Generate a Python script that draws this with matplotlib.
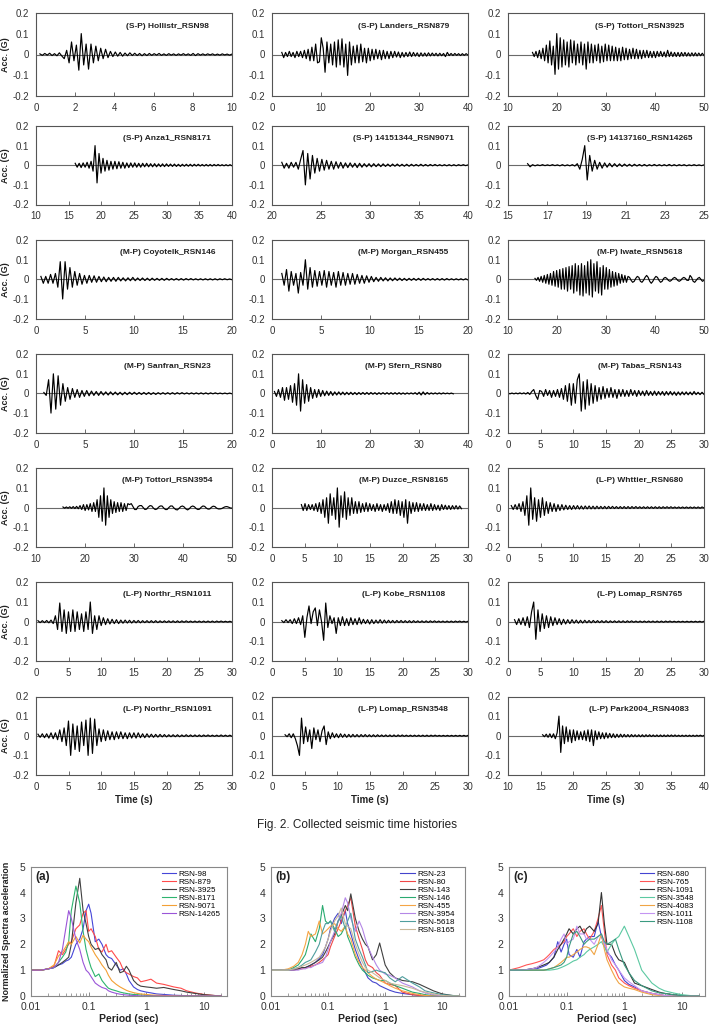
import numpy as np
import matplotlib.pyplot as plt
from matplotlib import font_manager

# ---------------- time history records (acceleration in 0.01 g, evenly spaced from start to end time)
hollistr_98 = [0.3,-0.4,0.5,-0.3,0.6,-0.5,0.4,-0.6,0.8,-0.7,
               -2,2,-4,6,-3,4.5,-7.5,10,-5,5,
               -7,5,-4,4,-3,3,-2,2.5,-1.5,1.5,
               -1,1.2,-0.8,1,-0.8,0.7,-0.6,0.8,-0.5,0.6,
               -0.5,0.5,-0.6,0.4,-0.5,0.5,-0.4,0.4,-0.3,0.5,
               -0.4,0.3,-0.4,0.4,-0.3,0.3,-0.4,0.3,-0.3,0.4,
               -0.3,0.3,-0.4,0.5,-0.5,0.4,-0.3,0.3,-0.3,0.3,
               -0.2,0.3,-0.3,0.2,-0.3,0.3,-0.2,0.2,-0.3,0.2]
landers_879 = [1,-1.5,1,-1,1.5,-1,1,-1.5,1.5,-1,
               1.5,-1.5,2,-2,2.5,-3,3.5,-3,5,-4,
               -3.5,8,3,-8.5,6,-4,5,-5,6,-6,
               7,-5,7.5,-6,5,-10,6,-5,4,-4,
               4.5,-4,5,-3.5,3,-4,3,-3,2.5,-2.5,
               2.5,-2,2,-2.5,2,-2,1.5,-2,1.5,-1.5,
               1.5,-1.2,1.2,-1.5,1,-1.2,1,-1,1.2,-1,
               1,-0.8,0.8,-1,0.8,-0.8,0.7,-0.8,0.8,-0.7,
               0.7,-0.6,0.6,-0.7,0.6,-0.6,0.5,-1,1,-0.5,
               0.5,-0.5,0.5,-0.4,0.4,-0.5,0.4,-0.4,0.4,-0.3]
tottori_3925 = [1,-1,1.5,-1.5,2,-2,3,-3,4.5,-4,
                6.5,-5,4,-9.5,10,-7,8,-6,7,-5,
                6,-6,7,-4,6.5,-5,5,-4,6,-5,
                5,-7,6,-4,5,-4,4.5,-3,5,-4,
                4,-3.5,5,-3,4.5,-3,4,-3,3.5,-3,
                3,-3,3.5,-2.5,3,-2.5,2.5,-2,3,-2,
                2.5,-2,2,-2,2,-1.5,2,-1.5,1.5,-1.5,
                1.5,-1.5,1.5,-1,1.5,-1,1.2,-1.2,2,-1,
                1.2,-1,1,-1,1,-1,1,-0.8,1,-0.8,
                0.8,-0.8,0.8,-0.7,0.8,-0.7,0.7,-0.6,0.6,-0.5]
anza1_8171 = [1,-1,1,-1.2,1.2,-1,1.5,-1.5,2,-3,
              10,-9,6,-4,3.5,-3,2.5,-2.5,2,-2,
              2,-1.8,1.8,-1.5,1.5,-1.5,1.2,-1.2,1.2,-1,
              1.2,-1,1,-1,1,-0.8,1,-0.8,0.8,-0.8,
              0.8,-0.8,0.7,-0.7,0.7,-0.7,0.7,-0.6,0.6,-0.6,
              0.6,-0.6,0.5,-0.6,0.5,-0.5,0.5,-0.5,0.5,-0.5,
              0.5,-0.4,0.5,-0.4,0.4,-0.4,0.4,-0.4,0.4,-0.4,
              0.4,-0.3,0.4,-0.3,0.3,-0.3,0.3,-0.3,0.3,-0.3]
eq14151344_9071 = [1.5,-1.5,1,-1.5,1.5,-1,1.5,-2,3,7.5,
                   -10,6,-7,5,-4,3.5,-3,3,-2.5,2.5,
                   -2,2,-2,1.8,-1.5,1.5,-1.5,1.2,-1.2,1.2,
                   -1,1,-1.2,1,-1,0.8,-0.8,0.8,-0.8,0.8,
                   -0.7,0.7,-0.7,0.7,-0.6,0.6,-0.6,0.6,-0.5,0.6,
                   -0.5,0.5,-0.5,0.5,-0.5,0.5,-0.4,0.4,-0.4,0.5,
                   -0.4,0.4,-0.4,0.4,-0.3,0.4,-0.3,0.3,-0.3,0.3,
                   -0.3,0.3,-0.3,0.3,-0.3,0.3,-0.2,0.3,-0.2,0.2]
eq14137160_14265 = [0.8,-0.8,0.3,-0.3,0.2,-0.2,0.3,-0.2,0.2,-0.2,
                    0.3,-0.2,0.2,-0.3,0.3,-0.3,0.2,-0.3,0.3,-0.4,
                    0.8,-2,3,10,-7.5,5,-3,2.5,-2,1.5,
                    -1.5,1.2,-1,1,-0.8,0.8,-0.7,0.7,-0.6,0.6,
                    -0.5,0.5,-0.5,0.5,-0.4,0.4,-0.4,0.4,-0.4,0.3,
                    -0.3,0.4,-0.3,0.3,-0.3,0.3,-0.3,0.4,-0.3,0.3,
                    -0.3,0.3,-0.2,0.3,-0.3,0.2,-0.2,0.3,-0.2,0.2,-0.2,0.2]
coyotelk_146 = [1.5,-2,1.5,-2,2.5,-2,3,-4,9,-10,
                9,-5,6,-4,4,-3,3,-2.5,2,-2,
                2,-1.5,1.8,-1.5,1.5,-1.2,1.2,-1.2,1,-1,
                1,-1,1,-0.8,0.8,-0.8,0.8,-0.7,1,-0.7,
                0.7,-0.6,0.7,-0.6,0.6,-0.6,0.6,-0.5,0.5,-0.5,
                0.5,-0.5,0.5,-0.4,0.4,-0.4,0.4,-0.4,0.4,-0.4,
                0.4,-0.3,0.4,-0.3,0.3,-0.3,0.3,-0.3,0.3,-0.3,
                0.3,-0.3,0.3,-0.3,0.3,-0.2,0.3,-0.2,0.2,-0.2]
morgan_455 = [3,-3,5,-6,4,-3,3,-7,3.5,-3,
              10,-5,6,-4,4.5,-3.5,4,-3,4.5,-4,
              4,-3,3.5,-4,4,-3,3.5,-3,3,-2.5,
              3,-2.5,2.5,-2,2,-2,1.8,-1.5,1.5,-1.2,
              1,-1,1,-0.8,0.8,-0.8,0.7,-0.7,0.7,-0.6,
              0.6,-0.6,0.5,-0.6,0.5,-0.5,0.5,-0.5,0.5,-0.5,
              0.5,-0.4,0.4,-0.4,0.4,-0.4,0.4,-0.4,0.4,-0.4,
              0.4,-0.3,0.3,-0.3,0.3,-0.3,0.3,-0.3,0.3,-0.3]
iwate_5618 = [0.5,-0.5,1,-1,1.5,-1.5,2,-2,2.5,-2.5,
              3,-3,4,-3.5,4.5,-4,5,-5,5.5,-5,
              6,-6,6.5,-5,7,-7,8,-6,7,-8,
              8,-8.5,7,-7,9,-8,10,-9,8,-6,
              9,-7,6,-8,7,-5,6,-5,5,-4,
              4,-3.5,3.5,-3,3,-2,2.5,-1.5,2,-1.5,
              1.5,1,-0.5,-1.5,-1,0.5,1.5,1,-1,-1.5,
              -0.5,1,2,1,-1,-2,-1,0.5,1.5,1,
              -0.5,-1.5,-1,0.5,1,0.5,-0.5,-1,-0.5,0.5,
              1,0.5,-0.5,-1,-0.5,0.5,1,0.5,-0.5,-0.5,
              2,1,-1,-1.5,-0.5,0.5,1,0,-1,-0.5]
sanfran_23 = [0.5,-1,7,-10,10,-8,9,-6,5,-4,
              3,-3,2.5,-2,2,-2,1.5,-1.5,1.5,-1.2,
              1.2,-1,1,-1,1,-0.8,0.8,-0.8,0.8,-0.7,
              0.7,-0.7,0.6,-0.7,0.6,-0.6,0.6,-0.5,0.6,-0.5,
              0.5,-0.5,0.5,-0.5,0.5,-0.5,0.4,-0.5,0.4,-0.4,
              0.4,-0.4,0.4,-0.4,0.4,-0.4,0.4,-0.3,0.4,-0.3,
              0.3,-0.3,0.3,-0.3,0.3,-0.3,0.3,-0.3,0.3,-0.3,
              0.3,-0.2,0.3,-0.2,0.2,-0.2,0.2,-0.2,0.2,-0.2]
sfern_80 = [1,-1.5,2,-2,3,-3.5,3,-3,4,-4.5,
            5,-6,10,-9,7,-5,4.5,-4,3,-2.5,
            2,-2,2,-1.5,1.5,-1.2,1.2,-1,1,-1,
            0.8,-0.8,0.8,-0.7,0.7,-0.7,0.6,-0.6,0.6,-0.6,
            0.5,-0.6,0.5,-0.5,0.5,-0.5,0.5,-0.5,0.5,-0.4,
            0.4,-0.5,0.4,-0.4,0.4,-0.4,0.4,-0.4,0.4,-0.4,
            0.4,-0.4,0.4,-0.4,0.3,-0.4,0.3,-0.3,0.3,-0.3,
            0.4,-0.5,0.6,-0.8,0.8,-0.6,0.5,-0.4,0.3,-0.3,
            0.3,-0.3,0.3,-0.3,0.3,-0.2,0.2,-0.2,0.2,-0.2]
tabas_143 = [0.2,-0.2,0.2,-0.2,0.2,-0.2,0.3,-0.2,0.3,-0.3,
             0.5,-0.5,1,2,-1,-3,1.5,1,-1.5,2,
             -1,1.5,-2,1.5,-1.5,2,-2,2.5,-3,4,
             -4,5,-6,5,-5,7,10,-9,6,-8,
             7,-6,5,-5,4,-4,3,-3,3.5,-2.5,
             2.5,-2,3,-2,2,-2.5,2,-1.5,2,-1.5,
             1.5,-1.5,2,-1,1.5,-1.5,1.5,-1,1.2,-1.2,
             1.5,-1,1,-1,1.2,-1,1,-0.8,1,-1,
             1,-0.8,1,-0.8,0.8,-1,0.8,-0.8,0.8,-0.7,
             0.8,-0.7,0.7,-0.7,1,-0.6,0.6,-0.6,0.6,-0.5]
tottori_3954 = [0.3,-0.3,0.3,-0.3,0.4,-0.4,0.5,-0.5,0.6,-0.6,
                1,-1,1.5,-1.5,1.5,-1.2,2,-2,2.5,-2,
                4,-5,6,-7,10,-9,6,-5,4,-3,
                3,-2.5,2.5,-2,2.5,-2,2,-1.5,2,1.5,
                2,0.5,-1,-1,0.5,1,1,0,-1,-0.8,
                0.3,1,0.8,-0.3,-1,-0.8,0.2,0.8,0.8,-0.2,
                -1,-1,0,0.8,0.8,-0.2,-1,-1.2,-0.4,0.5,
                0.8,0.3,-0.7,-1.2,-0.6,0.4,0.8,0.4,-0.5,-1,
                -0.8,0.2,0.8,0.6,-0.3,-0.8,-0.7,0.2,0.7,0.5,
                -0.3,-0.7,-0.7,-0.5,0,0.4,0.5,0.2,-0.2,-0.3]
duzce_8165 = [1.5,-1.5,2,-1.5,1.5,-1,1.5,-1.5,2,-2,
              2.5,-3,4,-5,5,-8,7,-4,5,-6,
              10,-10,6,-5,8,-6,5,-4,5,-3,
              3,-3,3,-2.5,2,-2,2.5,-2,2,-1.5,
              1.5,-2,2,-1.5,1.5,-2,1.5,-1.5,2,-2.5,
              3,-3,4,-3,3.5,-4,3,-5,4,-8,
              3,-3,2.5,-2,2.5,-2,2,-1.5,2,-1.5,
              1.5,-1.5,2,-1.5,1.5,-1.2,1.2,-1.5,1.5,-1,
              1.2,-1,1,-1,1,-0.8,1,-0.8,0.8,-0.6]
whittier_680 = [1,-1,1.5,-1,2,-2,3,-4,6,-9,
                10,-6,5,-7,4,-5,5,-4,3,-3,
                2.5,-2,2,-2,1.5,-1.5,1.5,-1.2,1.2,-1,
                1,-1,1,-0.8,1,-0.8,0.8,-0.8,0.8,-0.7,
                0.8,-0.7,0.7,-0.7,0.7,-0.6,0.6,-0.6,0.6,-0.6,
                0.6,-0.5,0.6,-0.5,0.5,-0.5,0.5,-0.5,0.5,-0.5,
                0.5,-0.5,0.5,-0.4,0.5,-0.4,0.4,-0.4,0.4,-0.4,
                0.4,-0.4,0.4,-0.4,0.4,-0.4,0.4,-0.4,0.4,-0.3,
                0.4,-0.3,0.4,-0.3,0.3,-0.3,0.3,-0.3,0.3,-0.3,
                0.3,-0.3,0.3,-0.3,0.3,-0.3,0.3,-0.3,0.3,-0.2]
northr_1011 = [0.5,-0.5,0.5,-0.5,0.6,-0.6,0.8,-1,3,-4,
               9.5,-5,6,-6,5,-5,6,-5,5,-4,
               4,-5,5,-4,10,-6,3,-4,3,-2,
               2,-1.5,1.5,-1.2,1.2,-1,1,-1,0.8,-0.8,
               0.8,-0.7,0.7,-0.7,0.6,-0.6,0.6,-0.6,0.5,-0.5,
               0.5,-0.5,0.5,-0.5,0.5,-0.5,0.4,-0.4,0.4,-0.4,
               0.4,-0.4,0.4,-0.4,0.4,-0.4,0.4,-0.3,0.4,-0.3,
               0.3,-0.3,0.3,-0.3,0.3,-0.3,0.3,-0.3,0.3,-0.3,
               0.3,-0.3,0.3,-0.2,0.3,-0.2,0.2,-0.2,0.2,-0.2]
kobe_1108 = [0.5,-0.5,1,-0.5,1,-1,1.5,-1,2,-1.5,
             3,-8,2,8,-1,5,7,-2,6,0,
             -9.5,9.5,-3,3,-1,2,-6,2,-2,2.5,
             -2,1.5,-2,2,-1.5,1.5,-1.5,2,-1.2,1.2,
             -1,1,-1.2,1,-1,0.8,-0.8,1,-0.8,0.8,
             -0.7,0.7,-0.6,0.6,-0.6,0.6,-0.5,0.6,-0.5,0.5,
             -0.5,0.5,-0.5,0.5,-0.4,0.4,-0.4,0.4,-0.4,0.4,
             -0.4,0.4,-0.3,0.4,-0.3,0.3,-0.3,0.3,-0.3,0.3,
             -0.3,0.3,-0.3,0.3,-0.2,0.3,-0.2,0.2,-0.2,0.2]
lomap_765 = [1,-1.5,1.5,-1.5,2,-2,2.5,-3,5,10,
             -9,6,-5,4,-3.5,3,-3,2.5,-2,2,
             -1.5,1.5,-1.5,1.2,-1.2,1,-1,1,-0.8,0.8,
             -0.8,0.7,-0.7,0.7,-0.6,0.6,-0.6,0.6,-0.5,0.5,
             -0.5,0.5,-0.5,0.5,-0.5,0.4,-0.4,0.4,-0.4,0.4,
             -0.4,0.4,-0.4,0.4,-0.3,0.4,-0.3,0.3,-0.3,0.3,
             -0.3,0.3,-0.3,0.3,-0.3,0.3,-0.3,0.3,-0.3,0.3,
             -0.3,0.3,-0.2,0.3,-0.2,0.2,-0.2,0.2,-0.2,0.2,
             -0.2,0.2,-0.2,0.2,-0.2,0.2,-0.2,0.2,-0.2,0.2]
northr_1091 = [0.8,-0.8,1,-1,1,-1.2,1.5,-1.5,1.5,-2,
               3,-3,4,-5,7.5,-10,6,-7,5,-8,
               7,-5,8,-10,9,-9,8.5,-5,3.5,-3,
               3,-2.5,2.5,-2,2,-2,2,-1.5,2,-1.5,
               1.5,-1.5,1.5,-1.2,1.5,-1.2,1.5,-1,1,-1,
               1,-0.8,0.8,-0.8,0.7,-0.7,0.7,-0.6,0.6,-0.6,
               0.5,-0.5,0.5,-0.5,0.5,-0.5,0.4,-0.4,0.5,-0.4,
               0.4,-0.4,0.4,-0.4,0.4,-0.4,0.4,-0.3,0.4,-0.3,
               0.3,-0.3,0.3,-0.3,0.4,-0.3,0.3,-0.3,0.3,-0.3]
lomap_3548 = [0.5,-0.5,1,-1,1,-1.5,-5,-10,9,-4,
              4.5,-3,3,-6.5,4,-2,3,-3,2.5,5,
              -4.5,2,-1.5,1.5,-1,1,-1,1,-0.8,0.8,
              -0.8,0.7,-0.7,0.7,-0.6,0.6,-0.6,0.6,-0.5,0.6,
              -0.5,0.5,-0.5,0.5,-0.5,0.5,-0.4,0.4,-0.4,0.4,
              -0.4,0.4,-0.4,0.4,-0.4,0.4,-0.3,0.4,-0.3,0.3,
              -0.3,0.3,-0.3,0.3,-0.3,0.3,-0.3,0.3,-0.3,0.3,
              -0.3,0.3,-0.2,0.3,-0.2,0.2,-0.2,0.2,-0.2,0.2,
              -0.2,0.2,-0.2,0.2,-0.2,0.2,-0.2,0.2,-0.2,0.2]
park2004_4083 = [0.5,-0.5,0.8,-0.8,1,-1,1,-1.5,1.5,10,
                 -8.5,5,-4,4.5,-3,3,-3.5,3,-2.5,2.5,
                 -2,2,-2,2.5,-2.5,3,-3,3,-5,2.5,
                 -2,2,-1.5,1.5,-1.5,1.5,-1.2,1.2,-1,1,
                 -1,0.8,-0.8,0.8,-0.7,0.7,-0.6,0.6,-0.6,0.6,
                 -0.5,0.5,-0.5,0.5,-0.5,0.5,-0.5,0.5,-0.4,0.5,
                 -0.4,0.4,-0.4,0.4,-0.4,0.4,-0.4,0.4,-0.4,0.4,
                 -0.3,0.4,-0.3,0.4,-0.3,0.3,-0.3,0.3,-0.3,0.3,
                 -0.3,0.3,-0.3,0.3,-0.3,0.3,-0.2,0.3,-0.2,0.2]

# title, record, start time, end time, x min, x max, x tick step
panels = [
    ('(S-P) Hollistr_RSN98', hollistr_98, 0.2, 10, 0, 10, 2),
    ('(S-P) Landers_RSN879', landers_879, 2, 40, 0, 40, 10),
    ('(S-P) Tottori_RSN3925', tottori_3925, 15, 50, 10, 50, 10),
    ('(S-P) Anza1_RSN8171', anza1_8171, 16, 40, 10, 40, 5),
    ('(S-P) 14151344_RSN9071', eq14151344_9071, 21, 40, 20, 40, 5),
    ('(S-P) 14137160_RSN14265', eq14137160_14265, 16, 25, 15, 25, 2),
    ('(M-P) Coyotelk_RSN146', coyotelk_146, 0.5, 20, 0, 20, 5),
    ('(M-P) Morgan_RSN455', morgan_455, 1, 20, 0, 20, 5),
    ('(M-P) Iwate_RSN5618', iwate_5618, 15.5, 50, 10, 50, 10),
    ('(M-P) Sanfran_RSN23', sanfran_23, 0.8, 20, 0, 20, 5),
    ('(M-P) Sfern_RSN80', sfern_80, 0.5, 37, 0, 40, 10),
    ('(M-P) Tabas_RSN143', tabas_143, 0, 30, 0, 30, 5),
    ('(M-P) Tottori_RSN3954', tottori_3954, 15.5, 50, 10, 50, 10),
    ('(M-P) Duzce_RSN8165', duzce_8165, 4.5, 29, 0, 30, 5),
    ('(L-P) Whttier_RSN680', whittier_680, 0.5, 30, 0, 30, 5),
    ('(L-P) Northr_RSN1011', northr_1011, 0.3, 30, 0, 30, 5),
    ('(L-P) Kobe_RSN1108', kobe_1108, 1.5, 30, 0, 30, 5),
    ('(L-P) Lomap_RSN765', lomap_765, 1, 30, 0, 30, 5),
    ('(L-P) Northr_RSN1091', northr_1091, 0.3, 30, 0, 30, 5),
    ('(L-P) Lomap_RSN3548', lomap_3548, 2, 30, 0, 30, 5),
    ('(L-P) Park2004_RSN4083', park2004_4083, 15.3, 40, 10, 40, 5),
]
acc_ticks = [-0.2, -0.1, 0, 0.1, 0.2]
acc_labels = ['-0.2', '-0.1', '0', '0.1', '0.2']

# ---------------- normalized response spectra
periods = [0.01, 0.015, 0.02, 0.025, 0.03, 0.035, 0.04, 0.045, 0.05, 0.06,
           0.07, 0.08, 0.09, 0.1, 0.11, 0.13, 0.15, 0.17, 0.2, 0.22,
           0.25, 0.3, 0.35, 0.4, 0.45, 0.5, 0.6, 0.7, 0.8, 1.0,
           1.2, 1.5, 2, 3, 4, 5, 7, 10, 15, 20]

sa_a_labels = ['RSN-98', 'RSN-879', 'RSN-3925', 'RSN-8171', 'RSN-9071', 'RSN-14265']
sa_a = [
    [1.0,1.0,1.05,1.1,1.2,1.25,1.35,1.4,1.5,2.0, 2.2,2.6,3.3,3.55,3.2,2.1,2.2,2.0,1.6,1.5,
     1.45,1.2,1.0,1.05,0.85,0.6,0.35,0.25,0.2,0.15, 0.12,0.08,0.06,0.03,0.02,0.01,0,0,0,0],
    [1.0,1.0,1.05,1.15,1.75,1.6,1.8,2.0,2.1,2.6, 2.75,3.2,3.3,2.5,2.6,2.3,1.8,1.7,2.0,1.7,
     1.75,1.5,1.3,1.0,0.9,0.85,0.75,0.7,0.55,0.6, 0.65,0.5,0.45,0.35,0.3,0.2,0.12,0.06,0.02,0.0],
    [1.0,1.0,1.05,1.1,1.2,1.3,1.4,1.5,2.0,3.6, 4.55,3.3,2.8,2.3,2.0,1.8,1.85,1.6,1.4,1.1,
     1.0,1.3,0.9,0.95,1.15,1.0,0.6,0.45,0.38,0.35, 0.33,0.3,0.33,0.25,0.2,0.15,0.1,0.05,0.02,0.0],
    [1.0,1.0,1.05,1.1,1.3,1.5,1.7,2.1,3.3,4.25, 3.6,2.5,1.8,1.4,1.1,0.75,0.85,0.6,0.4,0.3,
     0.25,0.2,0.15,0.12,0.1,0.08,0.06,0.05,0.04,0.03, 0.02,0.01,0,0,0,0,0,0,0,0],
    [1.0,1.0,1.05,1.2,1.55,1.7,1.9,2.1,2.0,2.3, 2.05,2.35,2.2,2.1,1.9,1.6,1.4,1.2,1.0,0.8,
     0.6,0.45,0.35,0.28,0.22,0.18,0.13,0.1,0.08,0.06, 0.04,0.03,0.02,0.01,0,0,0,0,0,0],
    [1.0,1.0,1.05,1.1,1.3,1.8,2.6,3.3,3.0,2.2, 1.8,1.3,1.0,0.9,0.75,0.5,0.4,0.33,0.28,0.2,
     0.15,0.1,0.07,0.05,0.04,0.03,0.02,0.01,0,0, 0,0,0,0,0,0,0,0,0,0],
]
sa_b_labels = ['RSN-23', 'RSN-80', 'RSN-143', 'RSN-146', 'RSN-455', 'RSN-3954', 'RSN-5618', 'RSN-8165']
sa_b = [
    [1.0,1.0,1.0,1.05,1.05,1.1,1.1,1.15,1.2,1.3, 1.45,1.6,1.9,2.2,2.6,3.0,3.2,2.8,3.3,2.8,
     2.4,1.8,1.4,1.1,0.9,0.7,0.55,0.5,0.4,0.3, 0.22,0.15,0.1,0.05,0.02,0.01,0,0,0,0],
    [1.0,1.0,1.0,1.0,1.05,1.05,1.1,1.1,1.15,1.2, 1.3,1.4,1.5,1.6,1.9,2.3,2.6,2.9,3.3,3.5,
     3.8,2.7,2.2,1.8,1.4,1.2,1.1,0.9,0.8,0.5, 0.45,0.4,0.15,0.05,0.02,0.01,0,0,0,0],
    [1.0,1.0,1.0,1.0,1.05,1.1,1.1,1.15,1.2,1.3, 1.4,1.5,1.7,1.9,2.1,2.4,2.9,3.1,3.5,3.3,
     3.95,3.0,2.5,2.2,2.0,1.9,1.4,1.6,2.05,1.2, 0.9,0.7,0.6,0.55,0.45,0.35,0.2,0.08,0.02,0.0],
    [1.0,1.0,1.0,1.1,1.2,1.4,1.6,2.0,2.4,2.1, 2.6,3.5,2.9,2.8,2.9,2.6,2.3,2.4,2.7,2.3,
     2.0,1.5,1.2,1.0,0.9,0.8,0.7,0.65,0.6,0.6, 0.5,0.4,0.3,0.15,0.1,0.05,0.02,0,0,0],
    [1.0,1.0,1.05,1.15,1.3,1.6,2.0,2.5,2.3,2.4, 2.9,2.4,2.5,2.6,2.7,2.8,2.6,2.5,2.7,2.4,
     2.2,1.6,1.3,1.1,1.0,0.9,0.75,0.65,0.6,0.5, 0.4,0.3,0.2,0.1,0.05,0.02,0,0,0,0],
    [1.0,1.0,1.0,1.0,1.0,1.05,1.05,1.1,1.1,1.2, 1.25,1.3,1.5,1.8,2.1,2.5,2.9,3.2,3.8,3.6,
     3.0,2.5,2.9,2.6,2.2,1.9,1.5,1.2,1.0,0.85, 0.8,0.7,0.5,0.35,0.2,0.12,0.05,0.01,0,0],
    [1.0,1.0,1.0,1.05,1.1,1.2,1.3,1.35,1.4,1.7, 2.0,2.5,2.8,2.8,2.9,2.5,2.9,3.1,2.6,2.9,
     3.2,2.2,1.8,1.5,1.2,0.9,0.95,1.0,0.95,0.9, 0.7,0.55,0.75,0.5,0.35,0.2,0.12,0.05,0.02,0],
    [1.0,1.0,1.0,1.05,1.1,1.15,1.2,1.25,1.3,1.4, 1.5,1.7,1.9,2.2,2.5,2.9,3.1,3.4,2.8,2.7,
     2.6,2.0,1.6,1.3,1.1,1.0,0.9,0.8,0.7,0.6, 0.5,0.45,0.4,0.3,0.2,0.15,0.08,0.02,0,0],
]
sa_c_labels = ['RSN-680', 'RSN-765', 'RSN-1091', 'RSN-3548', 'RSN-4083', 'RSN-1011', 'RSN-1108']
sa_c = [
    [1.0,1.0,1.02,1.05,1.05,1.1,1.15,1.2,1.3,1.5, 2.1,1.7,2.0,2.2,1.6,1.5,1.8,1.5,2.1,2.2,
     2.3,2.3,2.9,2.3,2.0,1.7,1.5,1.2,1.0,0.6, 0.45,0.35,0.2,0.1,0.05,0.02,0,0,0,0],
    [1.0,1.1,1.2,1.25,1.3,1.35,1.4,1.5,1.6,1.8, 1.9,2.0,2.1,2.3,2.4,2.6,2.3,2.5,2.6,2.4,
     2.2,2.5,3.0,3.5,2.5,1.6,1.2,1.0,0.7,0.5, 0.4,0.3,0.2,0.1,0.05,0.02,0,0,0,0],
    [1.0,1.0,1.02,1.05,1.1,1.15,1.2,1.25,1.3,1.5, 1.8,2.0,2.2,2.4,2.6,2.4,2.6,2.7,2.4,2.6,
     2.7,2.5,2.8,4.0,2.8,2.0,2.0,1.6,1.4,1.3, 0.9,0.5,0.4,0.25,0.15,0.1,0.05,0.02,0,0],
    [1.0,1.0,1.0,1.0,1.0,1.0,1.0,1.0,1.0,1.02, 1.05,1.1,1.15,1.2,1.25,1.35,1.4,1.5,1.6,1.7,
     1.8,1.9,2.0,2.1,1.9,1.7,2.0,2.2,2.3,2.7, 2.3,1.8,1.0,0.5,0.3,0.2,0.12,0.05,0.01,0],
    [1.0,1.0,1.0,1.0,1.0,1.0,1.0,1.02,1.05,1.1, 1.2,1.3,1.4,1.5,1.5,1.6,1.7,1.8,1.9,1.9,
     1.85,1.6,2.0,2.4,1.8,1.4,1.0,0.7,0.5,0.35, 0.3,0.25,0.15,0.05,0.02,0,0,0,0,0],
    [1.0,1.0,1.02,1.05,1.1,1.2,1.3,1.4,1.5,1.7, 1.9,2.2,2.4,2.0,2.1,2.2,2.7,2.4,2.4,2.2,
     2.2,2.0,2.3,2.4,2.0,1.8,1.4,1.2,1.0,0.7, 0.55,0.4,0.2,0.1,0.05,0.02,0,0,0,0],
    [1.0,1.0,1.0,1.0,1.0,1.0,1.0,1.02,1.05,1.1, 1.15,1.2,1.3,1.5,1.9,2.4,2.5,2.3,2.0,2.1,
     2.2,2.2,2.3,2.4,2.1,2.0,2.1,2.2,1.8,1.2, 0.9,0.6,0.4,0.2,0.12,0.1,0.05,0.01,0,0],
]
colors_a = ['#4646d8', '#ff4a4a', '#404040', '#2db46e', '#f3a035', '#9a55d8']
colors_b = ['#4444cc', '#f04848', '#404040', '#2aaa70', '#f5a545', '#b487e6', '#4f9e9e', '#c9b89a']
colors_c = ['#4444d2', '#ff5555', '#333333', '#5cc9a2', '#f0a545', '#c495f2', '#3a9a80']

# ---------------- fonts
names = {f.name for f in font_manager.fontManager.ttflist}
narrow = 'Liberation Sans Narrow' if 'Liberation Sans Narrow' in names else 'Liberation Sans'
plt.rcParams['font.family'] = [narrow, 'DejaVu Sans']
title_size = 7 if narrow == 'Liberation Sans Narrow' else 6

W, H = 714, 1028
fig = plt.figure(figsize=(W / 100, H / 100), dpi=100)
col_x = [36, 272, 508]


def row_box(r):
    if r == 0:
        return 12.7, 83.6
    return 126 + 114.1 * (r - 1), 78.5


for k, (title, rec, t0, t1, xlo, xhi, xstep) in enumerate(panels):
    r, c = divmod(k, 3)
    top, h = row_box(r)
    ax = fig.add_axes([col_x[c] / W, 1 - (top + h) / H, 196 / W, h / H])
    acc = np.array(rec) / 100.0
    t = np.linspace(t0, t1, len(acc))
    ax.axhline(0, color='#6a6a6a', lw=0.8, zorder=1)
    ax.plot(t, acc, color='black', lw=0.85, zorder=2)
    ax.set_xlim(xlo, xhi)
    ax.set_ylim(-0.2, 0.2)
    ax.set_xticks(np.arange(xlo, xhi + 0.01, xstep))
    ax.set_yticks(acc_ticks)
    ax.set_yticklabels(acc_labels)
    ax.tick_params(axis='x', direction='in', length=3, width=0.6, color='#555555',
                   labelsize=7, pad=5, labelcolor='#333333')
    ax.tick_params(axis='y', length=0, labelsize=7, pad=5, labelcolor='#333333')
    for s in ax.spines.values():
        s.set_color('#555555')
        s.set_linewidth(0.8)
    ax.text(0.67, 0.84, title, transform=ax.transAxes, ha='center', va='center',
            fontsize=title_size, fontweight='bold', color='#222222')
    if c == 0:
        fig.text(6 / W, 1 - (top + h / 2) / H, 'Acc. (G)', rotation=90, ha='center',
                 va='center', fontsize=6.5, fontweight='bold', color='#222222')
    if r == 6:
        fig.text((col_x[c] + 98) / W, 1 - 800 / H, 'Time (s)', ha='center', va='center',
                 fontsize=7, fontweight='bold', color='#222222')

fig.text(357 / W, 1 - 825 / H, 'Fig. 2. Collected seismic time histories', ha='center',
         va='center', fontsize=8.5, family='Liberation Sans', color='#222222')

# ---------------- spectra panels
spec = [('(a)', sa_a, sa_a_labels, colors_a, 31, 196),
        ('(b)', sa_b, sa_b_labels, colors_b, 271, 194),
        ('(c)', sa_c, sa_c_labels, colors_c, 509, 196)]
for j, (tag, curves, labels, cols, left, wd) in enumerate(spec):
    ax = fig.add_axes([left / W, 1 - 996 / H, wd / W, 129.3 / H])
    for vals, lab, col in zip(curves, labels, cols):
        ax.plot(periods, vals, color=col, lw=0.8, label=lab)
    ax.set_xscale('log')
    ax.set_xlim(0.01, 25)
    ax.set_ylim(0, 5)
    ax.set_xticks([0.01, 0.1, 1, 10])
    ax.set_xticklabels(['0.01', '0.1', '1', '10'])
    ax.set_yticks([0, 1, 2, 3, 4, 5])
    ax.tick_params(axis='x', which='major', direction='in', length=3, width=0.6,
                   color='#777777', labelsize=7.5, pad=4, labelcolor='#333333')
    ax.tick_params(axis='x', which='minor', direction='in', length=2.5, width=0.5,
                   color='#777777')
    ax.tick_params(axis='y', length=0, labelsize=7.5, pad=4, labelcolor='#333333')
    for lab in ax.get_xticklabels() + ax.get_yticklabels():
        lab.set_family('Liberation Sans')
    for s in ax.spines.values():
        s.set_color('#888888')
        s.set_linewidth(0.8)
    ax.text(0.06, 0.92, tag, transform=ax.transAxes, ha='center', va='center',
            fontsize=8.5, fontweight='bold', family='Liberation Sans', color='#222222')
    ax.legend(loc='upper left', bbox_to_anchor=(0.65, 1.0), frameon=False,
              prop={'family': 'Liberation Sans', 'size': 5.8}, labelspacing=0.05,
              handlelength=1.8, handletextpad=0.3, borderpad=0.4, borderaxespad=0)
    ax.set_xlabel('Period (sec)', fontsize=7.5, fontweight='bold', family='Liberation Sans',
                  color='#222222', labelpad=2)
    if j == 0:
        ax.set_ylabel('Normalized Spectra acceleration', fontsize=6.5, fontweight='bold',
                      color='#222222', labelpad=6)

fig.savefig('out.png', dpi=100)
